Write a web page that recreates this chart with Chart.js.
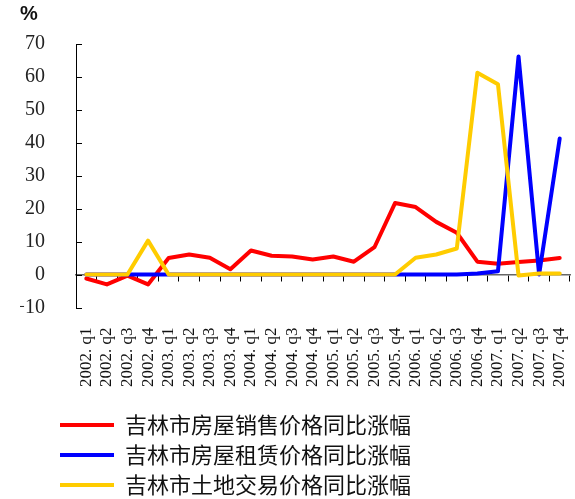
<!DOCTYPE html>
<html><head><meta charset="utf-8">
<script src="https://cdn.jsdelivr.net/npm/chart.js@4"></script>
<style>html,body{margin:0;padding:0;background:#fff}#wrap{width:575px;height:499px}</style>
</head><body><div id="wrap"><canvas id="c"></canvas></div>
<script>
const categories = ["2002. q1","2002. q2","2002. q3","2002. q4","2003. q1","2003. q2","2003. q3","2003. q4","2004. q1","2004. q2","2004. q3","2004. q4","2005. q1","2005. q2","2005. q3","2005. q4","2006. q1","2006. q2","2006. q3","2006. q4","2007. q1","2007. q2","2007. q3","2007. q4"];
const seriesNames = ["吉林市房屋销售价格同比涨幅","吉林市房屋租赁价格同比涨幅","吉林市土地交易价格同比涨幅"];
const salePrice = [-1.2,-3.0,-0.3,-3.0,5.0,6.1,5.1,1.6,7.3,5.7,5.5,4.6,5.5,3.9,8.3,21.7,20.5,16.0,12.7,3.9,3.3,3.8,4.3,5.0];
const rentPrice = [0,0,0,0,0,0,0,0,0,0,0,0,0,0,0,0,0,0,0,0.3,1.0,66.2,0,41.3];
const landPrice = [0,0,0,10.3,0,0,0,0,0,0,0,0,0,0,0,0,5.1,6.1,7.9,61.3,57.8,-0.3,0.3,0.3];
const yTicks = [-10,0,10,20,30,40,50,60,70];

const yFont = {family:"'Liberation Serif', serif", size:20};
const xFont = {family:"'Liberation Serif', serif", size:17};
const noPad = (s) => { s.paddingLeft = 0; s.paddingRight = 0; s.paddingTop = 0; s.paddingBottom = 0; };
const legendShift = {id:'legendShift', afterLayout(chart){ const lg = chart.legend; if(lg){ const w = lg.right - lg.left; lg.left = 52; lg.right = 52 + w; lg.top -= 1; lg.bottom -= 1; } }};
const yInnerTicks = {id:'yInnerTicks', afterDraw(chart){
  const ys = chart.scales.y, ctx = chart.ctx, x = chart.chartArea.left;
  ctx.save(); ctx.strokeStyle = '#000'; ctx.lineWidth = 1; ctx.beginPath();
  ys.ticks.forEach(t => { const py = Math.round(ys.getPixelForValue(t.value)) + 0.5; ctx.moveTo(x, py); ctx.lineTo(x + 6, py); });
  ctx.stroke(); ctx.restore();
}};

new Chart(document.getElementById('c'), {
  type:'line',
  data:{
    labels: categories,
    datasets:[
      {label:seriesNames[0], data:salePrice, borderColor:'#FF0000', backgroundColor:'#FF0000', borderWidth:4, order:2},
      {label:seriesNames[1], data:rentPrice, borderColor:'#0000FF', backgroundColor:'#0000FF', borderWidth:4, order:1},
      {label:seriesNames[2], data:landPrice, borderColor:'#FFCC00', backgroundColor:'#FFCC00', borderWidth:4, order:0}
    ]
  },
  options:{
    responsive:true, maintainAspectRatio:false, animation:false,
    layout:{padding:{left:20, right:5, top:0, bottom:-8}},
    elements:{line:{tension:0, borderCapStyle:'round', borderJoinStyle:'round'}, point:{radius:0}},
    scales:{
      x:{type:'category', position:'bottom', offset:true, afterFit:noPad,
        grid:{display:false, drawTicks:false}, border:{display:false},
        ticks:{autoSkip:false, minRotation:90, maxRotation:90, padding:20, color:'#111', font:xFont}},
      x0:{type:'category', position:{y:0}, offset:true, afterFit:noPad,
        grid:{offset:true, drawOnChartArea:false, drawTicks:true, tickLength:6, color:'#000', lineWidth:1},
        border:{display:true, color:'#666', width:1.5},
        ticks:{display:false, autoSkip:false}},
      y:{min:-10, max:70, afterBuildTicks(s){ s.ticks = yTicks.map(v=>({value:v})); },
        afterFit(s){ s.width = 56; noPad(s); },
        grid:{drawOnChartArea:false, drawTicks:false},
        border:{display:true, color:'#000', width:1},
        ticks:{padding:31, color:'#222', font:yFont, callback:(v)=> v < 0 ? '\u2212' + Math.abs(v) : String(v)}}
    },
    plugins:{
      title:{display:true, text:'%', align:'start', color:'#111', font:{family:"'Liberation Sans', sans-serif", size:20, weight:'bold'}, padding:{top:2, bottom:18}},
      legend:{position:'bottom', align:'start',
        labels:{usePointStyle:true, pointStyle:'line', pointStyleWidth:54, color:'#111', padding:8,
          font:{family:"'Noto Sans CJK SC', sans-serif", size:22},
          sort:(a,b)=>a.datasetIndex-b.datasetIndex}},
      tooltip:{enabled:false}
    }
  },
  plugins:[legendShift, yInnerTicks]
});
</script></body></html>
